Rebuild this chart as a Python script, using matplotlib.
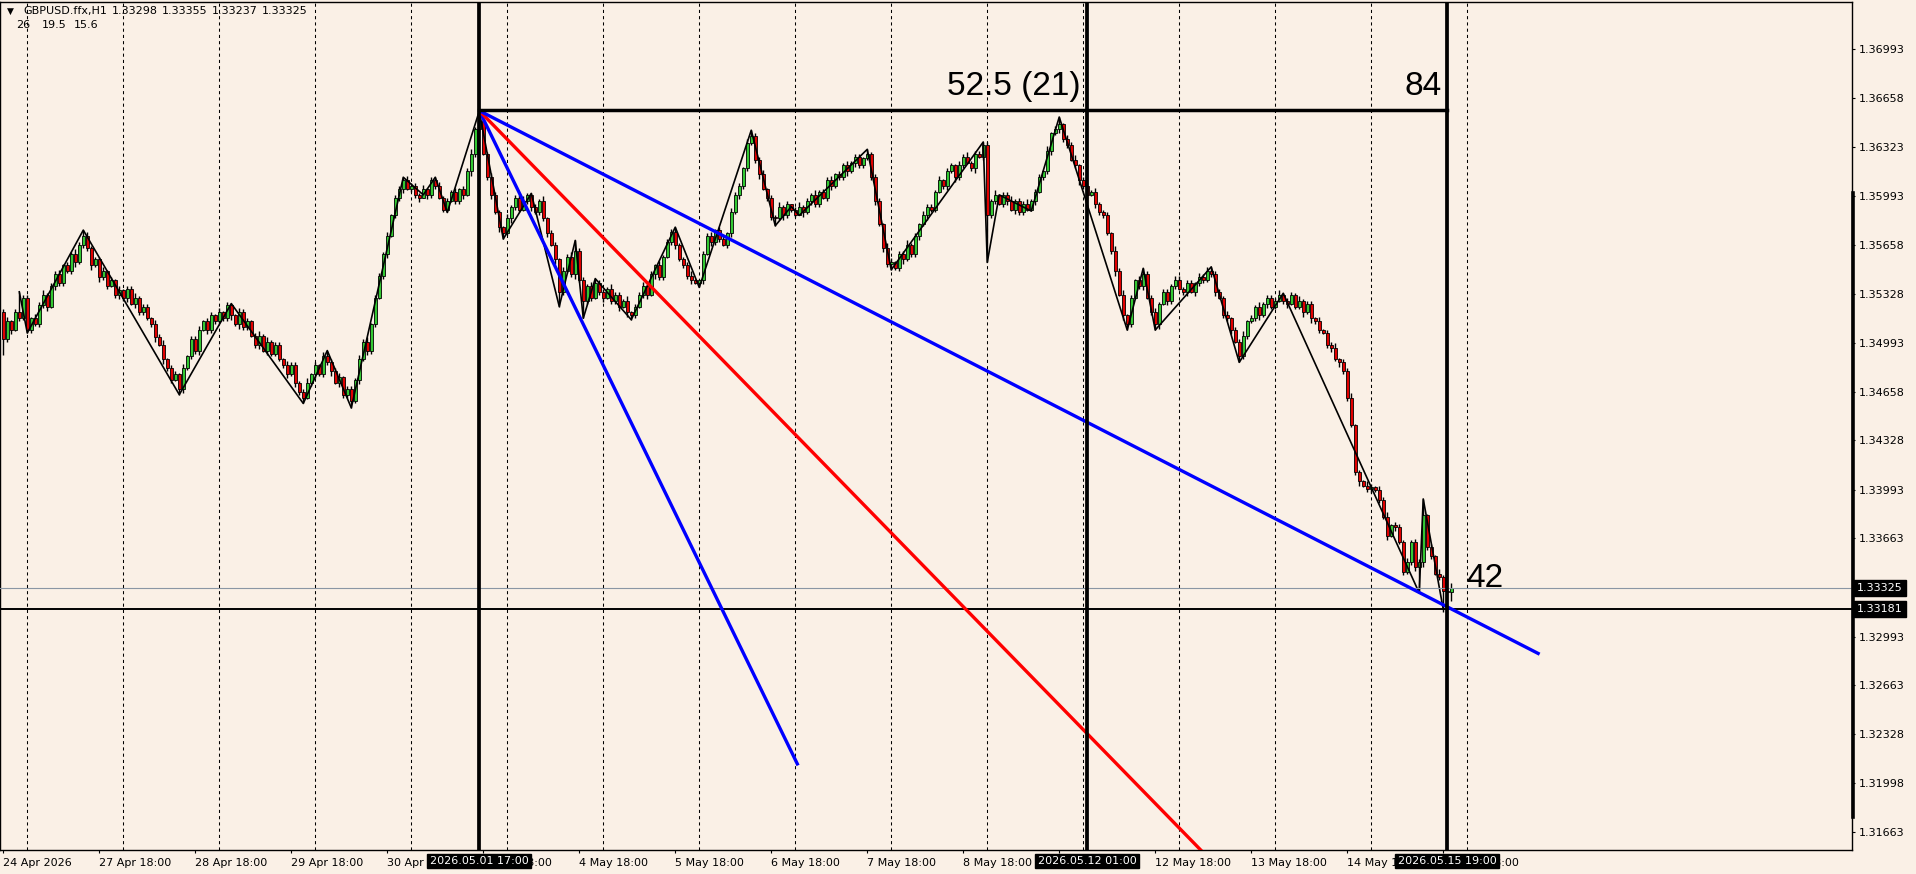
import matplotlib
matplotlib.use("Agg")
import matplotlib.pyplot as plt
import matplotlib.transforms as mtransforms
from matplotlib.lines import Line2D
import numpy as np

# ---------------- data (prices in 1e-4 units, 3533 = 1.3533) ----------------
BASE = 1.0
PIP = 1e-4
first_open_pips = 3520

close_days = [
    [3502, 3514, 3508, 3520, 3516, 3530],                                   # 24 Apr
    [3508, 3516, 3512, 3525, 3532, 3524, 3538, 3546, 3540, 3552, 3548, 3560,
     3554, 3566, 3572, 3564, 3552, 3556, 3544, 3548, 3538, 3542, 3532, 3535],  # 27 Apr
    [3530, 3536, 3526, 3530, 3520, 3524, 3516, 3512, 3503, 3498, 3488, 3482,
     3474, 3478, 3468, 3482, 3490, 3502, 3494, 3508, 3514, 3508, 3518, 3514],  # 28 Apr
    [3520, 3516, 3525, 3518, 3512, 3520, 3510, 3514, 3504, 3498, 3504, 3494,
     3500, 3492, 3498, 3488, 3484, 3478, 3484, 3472, 3466, 3462, 3472, 3478],  # 29 Apr
    [3484, 3478, 3490, 3486, 3480, 3472, 3476, 3464, 3468, 3460, 3474, 3488,
     3500, 3494, 3512, 3530, 3545, 3560, 3572, 3586, 3598, 3604, 3610, 3604],  # 30 Apr
    [3606, 3600, 3598, 3604, 3600, 3610, 3606, 3598, 3590, 3596, 3602, 3596,
     3604, 3600, 3616, 3628, 3645, 3650, 3628, 3612, 3600, 3588, 3578, 3574],  # 1 May
    [3584, 3592, 3598, 3590, 3596, 3600, 3592, 3588, 3596, 3584, 3574, 3566,
     3556, 3534, 3548, 3558, 3546, 3562, 3542, 3528, 3538, 3530, 3540, 3534],  # 4 May
    [3530, 3536, 3528, 3532, 3524, 3528, 3520, 3518, 3524, 3532, 3538, 3532,
     3546, 3552, 3544, 3558, 3568, 3575, 3566, 3556, 3552, 3545, 3542, 3540],  # 5 May
    [3542, 3560, 3572, 3568, 3576, 3570, 3566, 3574, 3588, 3600, 3606, 3618,
     3635, 3640, 3624, 3614, 3604, 3598, 3585, 3584, 3592, 3586, 3594, 3590],  # 6 May
    [3586, 3592, 3588, 3596, 3600, 3594, 3602, 3598, 3610, 3606, 3614, 3612,
     3620, 3616, 3622, 3626, 3620, 3625, 3628, 3612, 3596, 3580, 3564, 3553],  # 7 May
    [3554, 3550, 3560, 3556, 3566, 3560, 3572, 3580, 3586, 3592, 3590, 3602,
     3610, 3606, 3616, 3620, 3612, 3620, 3626, 3622, 3618, 3628, 3626, 3634],  # 8 May
    [3586, 3596, 3600, 3594, 3600, 3596, 3590, 3596, 3588, 3594, 3590, 3596,
     3602, 3612, 3616, 3630, 3642, 3645, 3648, 3638, 3634, 3624, 3620, 3610],  # 11 May
    [3606, 3600, 3602, 3594, 3588, 3586, 3574, 3562, 3548, 3532, 3518, 3512,
     3530, 3542, 3538, 3546, 3530, 3520, 3512, 3526, 3534, 3528, 3538, 3542],  # 12 May
    [3536, 3534, 3540, 3534, 3540, 3544, 3542, 3548, 3546, 3534, 3530, 3518,
     3516, 3508, 3500, 3490, 3504, 3514, 3516, 3524, 3518, 3526, 3530, 3524],  # 13 May
    [3528, 3532, 3528, 3526, 3532, 3524, 3528, 3520, 3526, 3516, 3514, 3508,
     3506, 3498, 3496, 3488, 3486, 3480, 3462, 3443, 3411, 3405, 3402, 3400],  # 14 May
    [3401, 3399, 3392, 3381, 3368, 3375, 3374, 3364, 3343, 3350, 3364, 3347,
     3350, 3382, 3360, 3354, 3342, 3340, 3330, 3329.8, 3332.5],                # 15 May
]

wick_up_days = [
    "231212",
    "213231 223121 322312 231213", "122312 213231 221312 231221",
    "312213 221231 312213 221231", "213122 312213 231221 312213",
    "221312 231213 122312 213221", "312231 221312 213231 221312",
    "213221 312231 213122 312231", "122312 213221 312231 213122",
    "231213 122312 231221 312213", "312231 213221 312213 231221",
    "213122 312231 221312 213231", "221312 213231 213122 312213",
    "312213 231221 312231 213122", "231221 312213 122312 231213",
    "213231 221312 231213 122",
]
wick_dn_days = [
    "523121",
    "321223 132212 312231 322123", "231322 123132 212312 231322",
    "122313 221231 322123 132212", "312231 322123 132212 312231",
    "223132 212312 231322 123132", "132212 312231 322123 132212",
    "312231 322123 132212 312231", "231322 123132 212312 231322",
    "123132 212312 231322 123132", "212312 231322 123132 212312",
    "322123 132212 312231 322123", "231322 123132 212312 231322",
    "123132 212312 231322 123132", "212312 231322 123132 212312",
    "312231 322123 132212 312",
]

pivot_high = {4: 3534, 20: 3576, 57: 3526, 81: 3494, 100: 3612, 108: 3612,
              119: 3657.5, 132: 3601, 143: 3569, 148: 3543, 168: 3578,
              187: 3644, 197: 3592, 216: 3631, 245: 3636, 249: 3600,
              264: 3653, 285: 3550, 302: 3551, 320: 3533, 355: 3393,
              362: 3335.5}
pivot_low = {0: 3491, 6: 3506, 44: 3464, 75: 3458, 87: 3455, 105: 3598,
             111: 3588, 125: 3570, 139: 3524, 145: 3516, 157: 3515,
             174: 3537, 193: 3579, 199: 3586, 222: 3549, 246: 3554,
             257: 3589, 281: 3508, 288: 3508, 309: 3486, 354: 3329,
             360: 3316, 362: 3323.7}

zz_idx = [4, 6, 20, 44, 57, 75, 81, 87, 100, 105, 108, 111, 119, 125, 132,
          139, 143, 145, 148, 157, 168, 174, 187, 193, 197, 199, 216, 222,
          245, 246, 249, 257, 264, 281, 285, 288, 302, 309, 320, 354, 355, 360]
zz_pips = [3534, 3506, 3576, 3464, 3526, 3458, 3494, 3455, 3612, 3600, 3612,
           3588, 3657, 3570, 3601, 3524, 3569, 3516, 3543, 3515, 3578, 3537,
           3644, 3579, 3592, 3586, 3631, 3549, 3636, 3554, 3600, 3589, 3653,
           3508, 3550, 3508, 3551, 3486, 3533, 3329, 3393, 3318]

tick_idx = list(range(0, 361, 24))
tick_labels = ["24 Apr 2026", "27 Apr 18:00", "28 Apr 18:00", "29 Apr 18:00",
               "30 Apr 18:00", "1 May 18:00", "4 May 18:00", "5 May 18:00",
               "6 May 18:00", "7 May 18:00", "8 May 18:00", "11 May 18:00",
               "12 May 18:00", "13 May 18:00", "14 May 18:00", "15 May 18:00"]
grid_idx = list(range(6, 367, 24))

y_ticks = [1.36993, 1.36658, 1.36323, 1.35993, 1.35658, 1.35328, 1.34993,
           1.34658, 1.34328, 1.33993, 1.33663, 1.32993, 1.32663, 1.32328,
           1.31998, 1.31663]

marker_idx = [119, 271, 361]
marker_labels = ["2026.05.01 17:00", "2026.05.12 01:00", "2026.05.15 19:00"]
top_level_pips = 3657.8
support_price = 1.33181
bid_price = 1.33325

fan_start = (119, 3657.3)
fan_ends = [(198.7, 3211.6), (300.8, 3150.0), (384.1, 3287.3)]
fan_colors = ["#0000FF", "#FF0000", "#0000FF"]

header_main = [("GBPUSD.ffx,H1", 23), ("1.33298", 112), ("1.33355", 162),
               ("1.33237", 212), ("1.33325", 262)]
header_sub = [("26", 16), ("19.5", 42), ("15.6", 74)]

# ---------------- build OHLC ----------------
closes = np.array([p for d in close_days for p in d], dtype=float)
n = len(closes)
opens = np.r_[first_open_pips, closes[:-1]]
wu = np.array([int(ch) for s in wick_up_days for ch in s.replace(" ", "")], dtype=float)
wd = np.array([int(ch) for s in wick_dn_days for ch in s.replace(" ", "")], dtype=float)
top = np.maximum(opens, closes)
bot = np.minimum(opens, closes)
highs = top + wu
lows = bot - wd
for k, v in pivot_high.items():
    highs[k] = max(v, top[k])
for k, v in pivot_low.items():
    lows[k] = min(v, bot[k])

to_price = lambda p: BASE + np.asarray(p, dtype=float) * PIP
O, C, Hh, L = to_price(opens), to_price(closes), to_price(highs), to_price(lows)
x = np.arange(n)

# ---------------- figure ----------------
W, H = 1916, 874
BG = "#FAF0E6"
fig = plt.figure(figsize=(W / 100, H / 100), dpi=100)
fig.patch.set_facecolor(BG)
ax = fig.add_axes([0, (H - 850) / H, 1852 / W, 848 / H])
ax.set_facecolor(BG)
ax.set_xlim(-0.825, 462.2)
ax.set_ylim(1.31540, 1.37313)

for gi in grid_idx:
    ax.axvline(gi, color="black", lw=0.75, ls=(0, (3, 3)), zorder=1)

# candles
up = C >= O
ax.vlines(x, L, Hh, color="black", lw=1.0, zorder=2)
body_h = np.maximum(np.abs(C - O), 0.7 * PIP)
ax.bar(x[up], body_h[up], bottom=np.minimum(O, C)[up], width=0.72,
       color="#33C833", edgecolor="black", linewidth=0.6, zorder=3)
ax.bar(x[~up], body_h[~up], bottom=np.minimum(O, C)[~up], width=0.72,
       color="#E00000", edgecolor="black", linewidth=0.6, zorder=3)

# zigzag
ax.plot(zz_idx, to_price(zz_pips), color="black", lw=1.2, zorder=4)

# horizontal lines
ax.axhline(bid_price, color="#8A96A4", lw=0.8, zorder=4)
ax.axhline(support_price, color="black", lw=1.4, zorder=4)

# fan lines
for (ex, ey), col in zip(fan_ends, fan_colors):
    ax.plot([fan_start[0], ex], to_price([fan_start[1], ey]), color=col,
            lw=2.4, solid_capstyle="butt", zorder=5)

# vertical markers and top level
for mi in marker_idx:
    ax.axvline(mi, color="black", lw=2.7, zorder=6)
ax.plot([marker_idx[0], marker_idx[2]], to_price([top_level_pips] * 2),
        color="black", lw=2.5, zorder=6)

big = dict(fontsize=24, family="Liberation Sans", color="black", zorder=7)
ax.text(269.4, 1.36680, "52.5 (21)", ha="right", va="baseline", **big)
ax.text(359.7, 1.36680, "84", ha="right", va="baseline", **big)
ax.text(365.7, 1.33329, "42", ha="left", va="baseline", **big)

# axes styling
for sp in ax.spines.values():
    sp.set_color("black")
    sp.set_linewidth(1.0)
ax.set_xticks(tick_idx)
ax.set_xticklabels(tick_labels)
for lbl in ax.get_xticklabels():
    lbl.set_ha("left")
ax.tick_params(axis="x", direction="out", length=2.5, width=0.8, pad=3,
               labelsize=8, colors="black")
ax.yaxis.tick_right()
ax.set_yticks(y_ticks)
ax.set_yticklabels([f"{v:.5f}" for v in y_ticks])
ax.tick_params(axis="y", direction="out", length=2.5, width=0.8, pad=2.5,
               labelsize=8, colors="black")

# black price boxes on the right axis
tr_r = mtransforms.blended_transform_factory(ax.transAxes, ax.transData)
for val in (bid_price, support_price):
    ax.text(1.0 + 5 / 1852, val, f"{val:.5f}", transform=tr_r, ha="left",
            va="center", color="white", fontsize=8, clip_on=False, zorder=8,
            bbox=dict(boxstyle="square,pad=0.25", fc="black", ec="black"))

# black time boxes on the bottom axis
tr_b = mtransforms.blended_transform_factory(ax.transData, ax.transAxes)
for mi, lab in zip(marker_idx, marker_labels):
    ax.text(mi, -11 / 848, lab, transform=tr_b, ha="center", va="center",
            color="white", fontsize=8, clip_on=False, zorder=8,
            bbox=dict(boxstyle="square,pad=0.22", fc="black", ec="black"))

# thick right edge segment
fig.add_artist(Line2D([1852.5 / W] * 2, [1 - 193 / H, 1 - 817 / H],
                      transform=fig.transFigure, color="black", lw=2.6))

# header
fig.text(7 / W, 1 - 11 / H, "\u25BC", fontsize=6.5, va="center", ha="left")
for s, px in header_main:
    fig.text(px / W, 1 - 11 / H, s, fontsize=8, va="center", ha="left")
for s, px in header_sub:
    fig.text(px / W, 1 - 25 / H, s, fontsize=8, va="center", ha="left")

fig.savefig("out.png", dpi=100, facecolor=BG)
